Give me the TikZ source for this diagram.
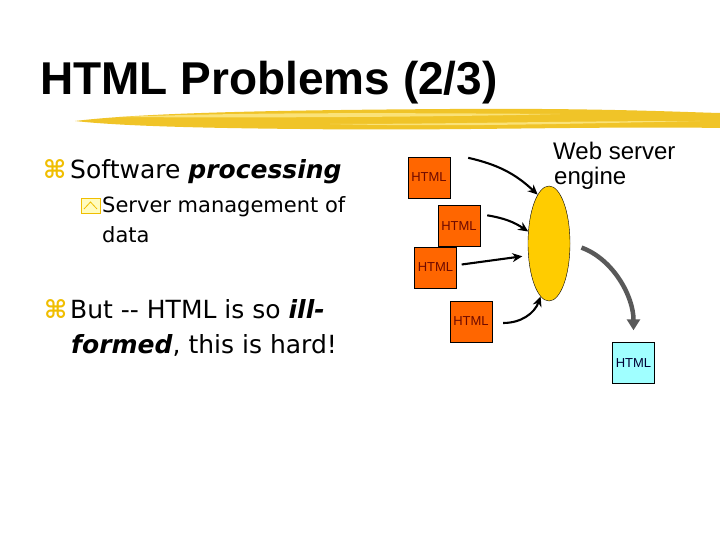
\documentclass[tikz,border=0pt]{standalone}
\usepackage{fontspec}
\setmainfont{DejaVu Sans}
\newfontfamily\titlefont{Liberation Sans}
\newfontfamily\symfont{DejaVu Sans}
\usetikzlibrary{arrows.meta, shapes.geometric, calc}

\definecolor{htmlorange}{RGB}{255,102,0}
\definecolor{htmlcyan}{RGB}{160,255,255}
\definecolor{enginegold}{RGB}{255,204,0}
\definecolor{brushyellow}{RGB}{240,196,40}
\definecolor{brushlight}{RGB}{250,226,120}
\definecolor{bulletgold}{RGB}{240,190,0}
\definecolor{htmltext}{RGB}{110,10,0}

\begin{document}
\begin{tikzpicture}[
  x=1pt, y=-1pt,
  heading/.style={
    anchor=base west,
    inner sep=0pt,
    font=\titlefont\bfseries\fontsize{46}{50}\selectfont
  },
  bodytext/.style={
    anchor=base west,
    inner sep=0pt,
    font=\fontsize{25}{29}\selectfont
  },
  subtext/.style={
    anchor=base west,
    inner sep=0pt,
    font=\fontsize{21}{29}\selectfont
  },
  bullet/.style={
    anchor=base west,
    inner sep=0pt,
    text=bulletgold,
    font=\symfont\bfseries\fontsize{25}{28}\selectfont
  },
  enginelabel/.style={
    anchor=base west,
    inner sep=0pt,
    font=\titlefont\fontsize{24}{28}\selectfont
  },
  doc/.style={
    rectangle,
    draw,
    fill=htmlorange,
    minimum width=42pt,
    minimum height=41pt,
    inner sep=0pt,
    text=htmltext,
    font=\titlefont\fontsize{13}{15}\selectfont
  },
  outdoc/.style={
    doc,
    fill=htmlcyan,
    text=black!80!blue
  },
  engine/.style={
    ellipse,
    draw,
    fill=enginegold,
    minimum width=42pt,
    minimum height=115pt,
    inner sep=0pt
  },
  arrow/.style={-{Stealth[length=10pt, width=9pt]}, line width=2.1pt},
  bigarrow/.style={-{Triangle[length=11pt, width=13pt]}, line width=4.5pt, draw=black!65}
]

\useasboundingbox (0,0) rectangle (720,540);
\fill[white] (0,0) rectangle (720,540);

% ============================================================
% Title and brush stroke
% ============================================================

\node[heading] (title) at (40,95) {HTML Problems (2/3)};

\fill[brushyellow] (75,121) .. controls (150,112) and (300,110) .. (450,109)
  .. controls (600,108) and (680,112) .. (720,113) -- (720,128)
  .. controls (600,126) and (450,131) .. (300,129)
  .. controls (200,128) and (120,126) .. (75,121) -- cycle;
\fill[brushlight] (120,117) .. controls (250,112) and (400,113) .. (560,114)
  .. controls (450,117) and (250,118) .. (120,117) -- cycle;
\fill[brushlight] (330,124) .. controls (450,124) and (560,121) .. (700,121)
  .. controls (560,124) and (450,127) .. (330,124) -- cycle;

% ============================================================
% Left: bullet text
% ============================================================

\node[bullet] (zsoft) at (43,179) {⌘};
\node[bodytext] (soft) at (70,179) {Software \textbf{\textit{processing}}};

% sub bullet box
\draw[bulletgold, fill=yellow!25] (81,198) rectangle (100,213);
\draw[bulletgold, line width=0.8pt] (84,209) -- (90.5,202) -- (97,209);

\node[subtext] (server) at (102,213) {Server management of};
\node[subtext] (data) at (102,242) {data};

\node[bullet] (zbut) at (44,318) {⌘};
\node[bodytext] (but) at (70,318) {But -{}- HTML is so \textbf{\textit{ill-}}};
\node[bodytext] (formed) at (71,353) {\textbf{\textit{formed}}, this is hard!};

% ============================================================
% Right: pages into the web server engine
% ============================================================

\node[doc] (page1) at (429,177.5) {HTML};
\node[doc] (page2) at (459,226) {HTML};
\node[doc] (page3) at (435.5,267.5) {HTML};
\node[doc] (page4) at (471,321.5) {HTML};

\node[engine] (eng) at (549,243.5) {};
\node[enginelabel] (web) at (553,160) {Web server};
\node[enginelabel] (engname) at (554,185) {engine};

\node[outdoc] (result) at (633.5,363) {HTML};

\draw[arrow] ($(page1.north east)+(18,1)$) to[bend left=15] (eng.103);
\draw[arrow] ($(page2.north east)+(7,10)$) to[bend left=12] (eng.150);
\draw[arrow, shorten >=6pt] ($(page3.east)+(5,-3)$) -- (eng.210);
\draw[arrow] ($(page4.east)+(11,1.5)$) to[out=0, in=250] (eng.261);

\draw[bigarrow, shorten <=12pt, shorten >=12pt] (eng.east) to[out=-20, in=90] (result.north);

\end{tikzpicture}
\end{document}
